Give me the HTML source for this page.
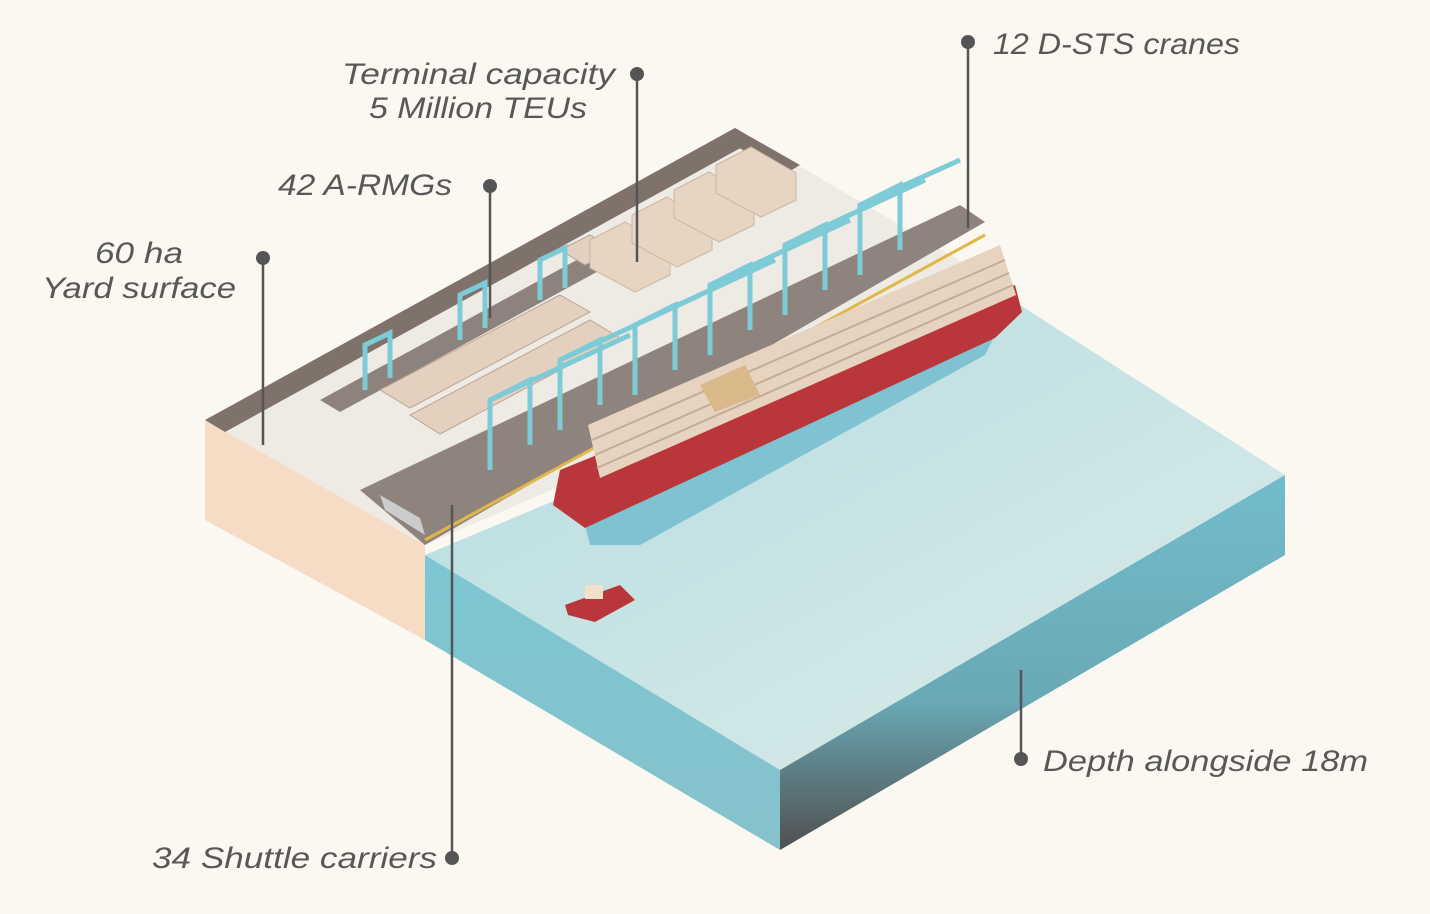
<!DOCTYPE html>
<html><head><meta charset="utf-8"><style>
html,body{margin:0;padding:0;background:#fbf8f2;}
svg{display:block;}
text{font-family:"Liberation Sans",sans-serif;font-style:italic;fill:#585858;font-size:30px;}
</style></head><body>
<svg width="1430" height="914" viewBox="0 0 1430 914" xmlns="http://www.w3.org/2000/svg">
<defs>
<linearGradient id="gR" x1="0" y1="0" x2="0" y2="1"><stop offset="0" stop-color="#72bccb"/><stop offset="0.6" stop-color="#6aa9b6"/><stop offset="1" stop-color="#4f4f4f"/></linearGradient>
<linearGradient id="gL" x1="0" y1="0" x2="0" y2="1"><stop offset="0" stop-color="#7cc6d3"/><stop offset="1" stop-color="#86c2cc"/></linearGradient>
<linearGradient id="gT" x1="0" y1="0" x2="1" y2="1"><stop offset="0" stop-color="#b5dde2"/><stop offset="1" stop-color="#dcebe8"/></linearGradient>
</defs>
<rect width="1430" height="914" fill="#fbf8f2"/>
<polygon points="425,555 1020,305 1285,475 780,770" fill="url(#gT)"/>
<polygon points="425,555 780,770 780,850 425,640" fill="url(#gL)"/>
<polygon points="780,770 1285,475 1285,555 780,850" fill="url(#gR)"/>
<polygon points="205,420 425,545 425,640 205,520" fill="#f6dcc4"/>
<polygon points="205,420 735,128 1010,290 425,545" fill="#eeeae4"/>
<polygon points="205,420 735,128 755,140 225,432" fill="#7e726a"/>
<polygon points="735,128 800,165 785,174 720,137" fill="#7e726a"/>
<polygon points="320,400 760,160 780,172 340,412" fill="#8e837c"/>
<polygon points="360,490 960,205 985,222 425,545" fill="#8f847d"/>
<polygon points="380,495 420,518 425,535 385,510" fill="#ccc"/>
<line x1="425" y1="540" x2="985" y2="235" stroke="#e2b74a" stroke-width="3"/>
<g fill="#e3d0bf" stroke="#b9a697" stroke-width="1">
<polygon points="380,390 560,295 590,312 410,408"/>
<polygon points="410,415 590,320 620,338 440,434"/>
<polygon points="560,250 590,235 615,250 585,265"/>
</g>
<g fill="#e7d5c3" stroke="#cbb6a4">
<polygon points="590,240 625,222 670,248 670,275 635,292 590,268"/>
<polygon points="632,215 667,197 712,223 712,250 677,267 632,243"/>
<polygon points="674,190 709,172 754,198 754,225 719,242 674,218"/>
<polygon points="716,165 751,147 796,173 796,200 761,217 716,193"/>
</g>
<polygon points="585,525 995,335 985,355 640,545 590,545" fill="#7fc3d2"/>
<polygon points="560,470 1015,285 1022,312 995,338 585,528 553,505" fill="#b9373a"/>
<polygon points="588,425 1000,245 1016,295 600,478" fill="#e6d3c0"/>
<g stroke="#c4ad98" stroke-width="2">
<line x1="592" y1="440" x2="1005" y2="260"/><line x1="595" y1="455" x2="1009" y2="273"/><line x1="597" y1="468" x2="1013" y2="285"/>
</g>
<polygon points="700,385 745,365 760,395 715,412" fill="#d9b98a"/>
<g stroke="#7ecbd8" stroke-width="5" fill="none">
<path d="M490,470 v-70 l40,-20 v65 M490,400 l140,-65"/>
<path d="M560,430 v-70 l40,-20 v65 M560,360 l140,-65"/>
<path d="M635,395 v-70 l40,-20 v65 M635,325 l140,-65"/>
<path d="M710,355 v-70 l40,-20 v65 M710,285 l140,-65"/>
<path d="M785,315 v-70 l40,-20 v65 M785,245 l140,-65"/>
<path d="M860,275 v-70 l40,-20 v65 M860,205 l100,-45"/>
<path d="M365,390 v-45 l25,-12 v45"/>
<path d="M460,340 v-45 l25,-12 v45"/>
<path d="M540,300 v-40 l25,-12 v40"/>
</g>
<polygon points="565,605 620,585 635,600 595,622 568,615" fill="#b9373a"/>
<rect x="585" y="585" width="18" height="14" fill="#f3e0c8"/>
<g stroke="#555" stroke-width="2.5">
<line x1="968" y1="42" x2="968" y2="228"/>
<line x1="637" y1="74" x2="637" y2="262"/>
<line x1="490" y1="186" x2="490" y2="318"/>
<line x1="263" y1="258" x2="263" y2="445"/>
<line x1="452" y1="858" x2="452" y2="505"/>
<line x1="1021" y1="759" x2="1021" y2="670"/>
</g>
<g fill="#555">
<circle cx="968" cy="42" r="7"/><circle cx="637" cy="74" r="7"/><circle cx="490" cy="186" r="7"/>
<circle cx="263" cy="258" r="7"/><circle cx="452" cy="858" r="7"/><circle cx="1021" cy="759" r="7"/>
</g>
<text x="993" y="54" textLength="247" lengthAdjust="spacingAndGlyphs">12 D-STS cranes</text>
<text x="342" y="84" textLength="273" lengthAdjust="spacingAndGlyphs">Terminal capacity</text>
<text x="369" y="118" textLength="218" lengthAdjust="spacingAndGlyphs">5 Million TEUs</text>
<text x="278" y="195" textLength="174" lengthAdjust="spacingAndGlyphs">42 A-RMGs</text>
<text x="95" y="263" textLength="88" lengthAdjust="spacingAndGlyphs">60 ha</text>
<text x="42" y="298" textLength="194" lengthAdjust="spacingAndGlyphs">Yard surface</text>
<text x="152" y="868" textLength="285" lengthAdjust="spacingAndGlyphs">34 Shuttle carriers</text>
<text x="1043" y="771" textLength="325" lengthAdjust="spacingAndGlyphs">Depth alongside 18m</text>
</svg>
</body></html>
